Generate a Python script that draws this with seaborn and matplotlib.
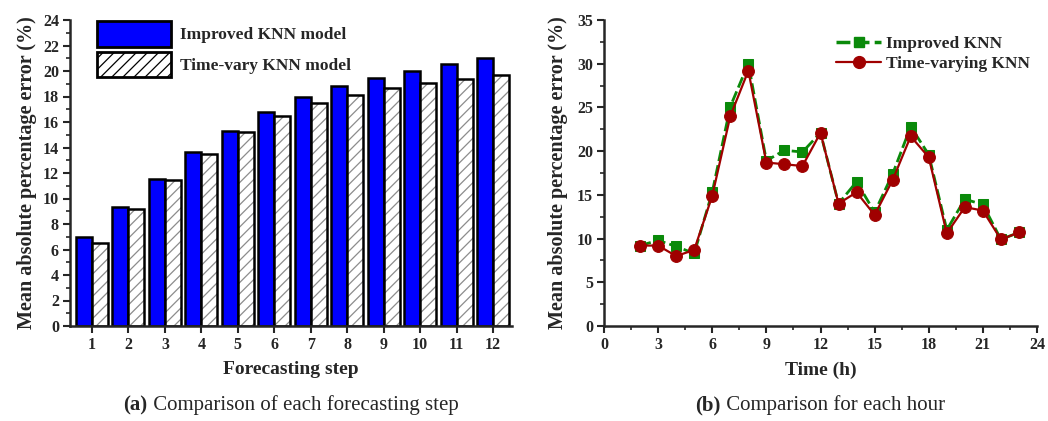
import numpy as np
import pandas as pd
import seaborn as sns
import matplotlib
matplotlib.use("Agg")
import matplotlib.pyplot as plt
from matplotlib.patches import Rectangle, Patch
from matplotlib.lines import Line2D
from matplotlib.ticker import MultipleLocator

# ---------------- data ----------------
steps = [1, 2, 3, 4, 5, 6, 7, 8, 9, 10, 11, 12]
improved_step = [6.96, 9.36, 11.53, 13.67, 15.32, 16.76, 17.93, 18.82, 19.48, 20.03, 20.55, 21.02]
timevary_step = [6.53, 9.15, 11.45, 13.49, 15.19, 16.47, 17.46, 18.12, 18.64, 19.03, 19.40, 19.69]

hours = [2, 3, 4, 5, 6, 7, 8, 9, 10, 11, 12, 13, 14, 15, 16, 17, 18, 19, 20, 21, 22, 23]
improved_hour = [9.2, 9.8, 9.1, 8.3, 15.3, 25.1, 30.0, 18.9, 20.1, 19.9, 22.1, 14.0,
                 16.5, 13.0, 17.4, 22.8, 19.6, 11.0, 14.5, 13.9, 9.9, 10.7]
timevary_hour = [9.2, 9.2, 8.0, 8.7, 14.9, 24.0, 29.2, 18.7, 18.5, 18.3, 22.1, 14.0,
                 15.3, 12.7, 16.7, 21.7, 19.3, 10.6, 13.6, 13.2, 9.9, 10.7]

bar_labels = ["Improved KNN model", "Time-vary KNN model"]
line_labels = ["Improved KNN", "Time-varying KNN"]

# ---------------- style ----------------
sns.set_theme(style="ticks")
plt.rcParams["font.family"] = ["Liberation Serif", "DejaVu Serif"]
plt.rcParams["axes.linewidth"] = 1.8
plt.rcParams["hatch.linewidth"] = 0.9

fig = plt.figure(figsize=(10.48, 4.21), dpi=100)
W, H = 1048, 421
ax1 = fig.add_axes([70 / W, (H - 326) / H, 442 / W, 306 / H])
ax2 = fig.add_axes([604 / W, (H - 326) / H, 433 / W, 306 / H])

# ---------------- left: bars ----------------
df = pd.DataFrame({
    "step": [str(s) for s in steps] * 2,
    "mape": improved_step + timevary_step,
    "model": [bar_labels[0]] * len(steps) + [bar_labels[1]] * len(steps),
})
sns.barplot(data=df, x="step", y="mape", hue="model", ax=ax1,
            palette={bar_labels[0]: "#0000ff", bar_labels[1]: "white"},
            width=0.88, gap=0, edgecolor="black", linewidth=1.8,
            saturation=1, legend=False, errorbar=None)

n = len(steps)
for i, p in enumerate(ax1.patches[:2 * n]):
    if i >= n:
        p.set_hatch("///")
        p.set_edgecolor("#8c8c8c")
        p.set_linewidth(0.0)
        ax1.add_patch(Rectangle(p.get_xy(), p.get_width(), p.get_height(),
                                fill=False, edgecolor="black", linewidth=1.8, zorder=p.get_zorder() + 0.1))

ax1.set_xlim(-0.6, n - 1 + 0.52)
ax1.set_ylim(0, 24)
ax1.yaxis.set_major_locator(MultipleLocator(2))
ax1.yaxis.set_minor_locator(MultipleLocator(1))
ax1.set_xlabel("Forecasting step", fontsize=14, fontweight="bold", labelpad=6)
ax1.set_ylabel("Mean absolute percentage error (%)", fontsize=14.5, fontweight="bold", labelpad=4)

# legend for bars
h_blue = Patch(facecolor="#0000ff", edgecolor="black", linewidth=2)
h_hatch = Patch(facecolor="white", edgecolor="black", linewidth=2, hatch="///")
leg1 = ax1.legend([h_blue, h_hatch], bar_labels, loc="upper left",
                  bbox_to_anchor=(0.045, 1.02), frameon=False,
                  prop={"weight": "bold", "size": 12.5},
                  handlelength=4.3, handleheight=1.9, handletextpad=0.5,
                  labelspacing=0.3, borderaxespad=0)

# ---------------- right: lines ----------------
sns.lineplot(x=hours, y=improved_hour, ax=ax2, color="#0a8a0a", linestyle=(0, (4, 1.5)),
             linewidth=2, marker="s", markersize=7.5, markeredgecolor="#0a8a0a")
sns.lineplot(x=hours, y=timevary_hour, ax=ax2, color="#a00000", linestyle="-",
             linewidth=1.6, marker="o", markersize=8.5, markeredgecolor="#a00000")

ax2.set_xlim(0, 24)
ax2.set_ylim(0, 35)
ax2.xaxis.set_major_locator(MultipleLocator(3))
ax2.xaxis.set_minor_locator(MultipleLocator(1.5))
ax2.yaxis.set_major_locator(MultipleLocator(5))
ax2.yaxis.set_minor_locator(MultipleLocator(2.5))
ax2.set_xlabel("Time (h)", fontsize=14, fontweight="bold", labelpad=6)
ax2.set_ylabel("Mean absolute percentage error (%)", fontsize=14.5, fontweight="bold", labelpad=6)

lh1 = Line2D([], [], color="#0a8a0a", linestyle=(0, (4, 1.5)), linewidth=2.5, marker="s",
             markersize=7.5, markeredgecolor="#0a8a0a")
lh2 = Line2D([], [], color="#a00000", linestyle="-", linewidth=1.6, marker="o",
             markersize=8.5, markeredgecolor="#a00000")
ax2.legend([lh1, lh2], line_labels, loc="upper left", bbox_to_anchor=(0.52, 0.97),
           frameon=False, prop={"weight": "bold", "size": 12.5},
           handlelength=2.6, handletextpad=0.3, labelspacing=0.2, borderaxespad=0)

for ax in (ax1, ax2):
    sns.despine(ax=ax)
    ax.tick_params(axis="both", which="major", direction="out", length=5, width=1.5,
                   labelsize=11.5, pad=3)
    ax.tick_params(axis="both", which="minor", direction="out", length=3, width=1.2)
    for lab in ax.get_xticklabels() + ax.get_yticklabels():
        lab.set_fontweight("bold")
ax1.tick_params(axis="x", which="minor", length=0)

# ---------------- captions ----------------
fig.canvas.draw()
renderer = fig.canvas.get_renderer()

def caption(cx, y, bold_part, rest):
    t1 = fig.text(0, y, bold_part, fontsize=15, fontweight="bold", ha="left", va="baseline")
    t2 = fig.text(0, y, rest, fontsize=15, ha="left", va="baseline")
    w1 = t1.get_window_extent(renderer).width
    w2 = t2.get_window_extent(renderer).width
    x0 = cx - (w1 + w2) / 2
    t1.set_x(x0 / W)
    t2.set_x((x0 + w1) / W)

caption(291, (H - 410) / H, "(a)", " Comparison of each forecasting step")
caption(820, (H - 410) / H, "(b)", " Comparison for each hour")

fig.savefig("out.png", dpi=100, facecolor="white")
